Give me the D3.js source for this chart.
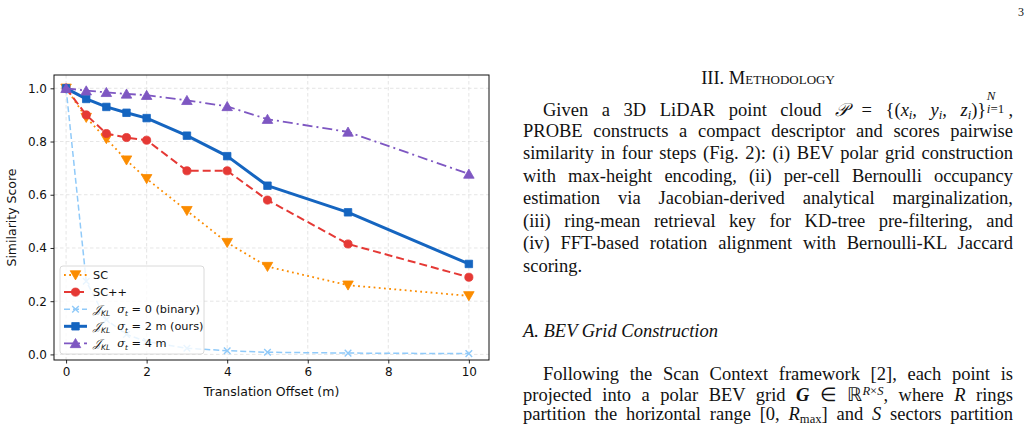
<!DOCTYPE html>
<html>
<head>
<meta charset="utf-8">
<script src="https://cdn.jsdelivr.net/npm/d3@7"></script>
<style>
  body { margin: 0; background: #fff; width: 1031px; height: 424px; overflow: hidden; position: relative; }
  #chart { position: absolute; left: 0; top: 0; }
  .page { position: absolute; font-family: "Liberation Serif", "Times New Roman", serif; color: #111; }
  .ln { position: absolute; left: 523px; width: 490px; height: 22px; line-height: 22px; font-size: 18.5px;
        text-align: justify; text-align-last: justify; white-space: nowrap; }
  .ln.last { text-align-last: left; }
  .ln.ind { padding-left: 20px; width: 470px; }
  .ln sub { font-size: 0.68em; vertical-align: -0.2em; line-height: 0; }
  .ln sup { font-size: 0.68em; vertical-align: 0.45em; line-height: 0; }
  .cal { font-family: "DejaVu Serif", serif; font-style: italic; }
  .lim { display: inline-block; position: relative; width: 1.2em; height: 1em; vertical-align: baseline; }
  .lim .up { position: absolute; left: 0.05em; top: -0.58em; font-size: 0.7em; font-style: italic; line-height: 1; }
  .lim .dn { position: absolute; left: 0.05em; top: 0.5em; font-size: 0.7em; line-height: 1; }
  .lim .dn i { font-style: italic; }
  .head { left: 523px; width: 490px; text-align: center; font-size: 18.5px; top: 67px; line-height: 22px; font-variant: small-caps; }
  .sub-head { left: 523px; top: 320px; font-size: 18.5px; line-height: 22px; font-style: italic; }
  .pnum { left: 1018px; top: 5px; font-size: 12px; }
</style>
</head>
<body>
<svg id="chart" width="1031" height="424"></svg>

<div class="page pnum">3</div>
<div class="page head">III. Methodology</div>
<div class="page ln ind" style="top:97px">Given a 3D LiDAR point cloud <span class="cal">𝒫</span> = {(<i>x<sub>i</sub></i>, <i>y<sub>i</sub></i>, <i>z<sub>i</sub></i>)}<span class="lim"><span class="up">N</span><span class="dn"><i>i</i>=1</span></span>,</div>
<div class="page ln" style="top:119.5px">PROBE constructs a compact descriptor and scores pairwise</div>
<div class="page ln" style="top:142px">similarity in four steps (Fig. 2): (i) BEV polar grid construction</div>
<div class="page ln" style="top:164.5px">with max-height encoding, (ii) per-cell Bernoulli occupancy</div>
<div class="page ln" style="top:187px">estimation via Jacobian-derived analytical marginalization,</div>
<div class="page ln" style="top:209.5px">(iii) ring-mean retrieval key for KD-tree pre-filtering, and</div>
<div class="page ln" style="top:232px">(iv) FFT-based rotation alignment with Bernoulli-KL Jaccard</div>
<div class="page ln last" style="top:254.5px">scoring.</div>
<div class="page sub-head">A. BEV Grid Construction</div>
<div class="page ln ind" style="top:363px">Following the Scan Context framework [2], each point is</div>
<div class="page ln" style="top:384px">projected into a polar BEV grid <b><i>G</i></b> ∈ ℝ<sup><i>R</i>×<i>S</i></sup>, where <i>R</i> rings</div>
<div class="page ln" style="top:403px">partition the horizontal range [0, <i>R</i><sub>max</sub>] and <i>S</i> sectors partition</div>

<script>
// translation offsets (m) and similarity per method
var offsets = [0, 0.5, 1, 1.5, 2, 3, 4, 5, 7, 10];
var scScores = [1.0, 0.89, 0.81, 0.73, 0.66, 0.54, 0.42, 0.33, 0.26, 0.22];
var scppScores = [1.0, 0.90, 0.83, 0.815, 0.805, 0.69, 0.69, 0.58, 0.415, 0.29];
var binaryScores = [1.0, 0.275, 0.13, 0.075, 0.048, 0.023, 0.014, 0.008, 0.005, 0.003];
var oursScores = [1.0, 0.96, 0.93, 0.908, 0.888, 0.822, 0.745, 0.634, 0.534, 0.34];
var sigma4Scores = [1.0, 0.991, 0.985, 0.979, 0.974, 0.955, 0.932, 0.884, 0.836, 0.678];

// tick labels
var xTickVals = [0, 2, 4, 6, 8, 10];
var yTickVals = [0.0, 0.2, 0.4, 0.6, 0.8, 1.0];

// legend labels, as pieces: [text, style]
var legendLabels = [
    [["SC", ""]],
    [["SC++", ""]],
    [["𝒥", "cal"], ["KL", "sub"], ["\u00a0\u00a0", ""], ["σ", "it"], ["t", "itsub"], [" = 0 (binary)", ""]],
    [["𝒥", "cal"], ["KL", "sub"], ["\u00a0\u00a0", ""], ["σ", "it"], ["t", "itsub"], [" = 2 m (ours)", ""]],
    [["𝒥", "cal"], ["KL", "sub"], ["\u00a0\u00a0", ""], ["σ", "it"], ["t", "itsub"], [" = 4 m", ""]]
];

var series = [
    { values: scScores, color: "#fb8c00", width: 1.8, dash: "1.8,3.4", marker: "tri-down" },
    { values: scppScores, color: "#e53935", width: 2, dash: "8,4", marker: "circle" },
    { values: binaryScores, color: "#90caf9", width: 1.5, dash: "6,3", marker: "x" },
    { values: oursScores, color: "#1565c0", width: 3, dash: null, marker: "square" },
    { values: sigma4Scores, color: "#7e57c2", width: 1.8, dash: "10,4,2,4", marker: "tri-up" }
];

var svg = d3.select("#chart");
var font = "'DejaVu Sans', sans-serif";

// plot box (note: "top" is taken by window.top)
var pLeft = 54, pRight = 489, pTop = 75, pBottom = 360;

var x = d3.scaleLinear().domain([-0.3, 10.5]).range([pLeft, pRight]);
var y = d3.scaleLinear().domain([-0.021, 1.05]).range([pBottom, pTop]);

// grid
var grid = svg.append("g");
grid.selectAll("line.gx")
    .data(xTickVals)
    .enter()
    .append("line")
    .attr("x1", function(d) { return x(d); })
    .attr("x2", function(d) { return x(d); })
    .attr("y1", pTop)
    .attr("y2", pBottom);
grid.selectAll("line.gy")
    .data(yTickVals)
    .enter()
    .append("line")
    .attr("x1", pLeft)
    .attr("x2", pRight)
    .attr("y1", function(d) { return y(d); })
    .attr("y2", function(d) { return y(d); });
grid.selectAll("line")
    .attr("stroke", "#dedede")
    .attr("stroke-width", 0.8)
    .attr("stroke-dasharray", "3.5,2.5");

// axes
var xAxis = svg.append("g")
    .attr("transform", "translate(0," + pBottom + ")")
    .call(d3.axisBottom(x).tickValues(xTickVals).tickFormat(d3.format("d")).tickSize(3.5).tickPadding(3.5));
var yAxis = svg.append("g")
    .attr("transform", "translate(" + pLeft + ",0)")
    .call(d3.axisLeft(y).tickValues(yTickVals).tickFormat(d3.format(".1f")).tickSize(3.5).tickPadding(3.5));
[xAxis, yAxis].forEach(function(a) {
    a.select(".domain").remove();
    a.selectAll("text").attr("font-family", font).attr("font-size", 12).attr("fill", "#111");
    a.selectAll("line").attr("stroke", "#111").attr("stroke-width", 0.9);
});

// marker shapes
function markerPath(kind) {
    if (kind === "circle") return d3.symbol(d3.symbolCircle, 52)();
    if (kind === "square") return d3.symbol(d3.symbolSquare, 56)();
    if (kind === "tri-up" || kind === "tri-down") return d3.symbol(d3.symbolTriangle, 48)();
    if (kind === "x") return "M-3.3,-3.3L3.3,3.3M-3.3,3.3L3.3,-3.3";
    return null;
}

function drawMarker(sel, s) {
    var p = sel.append("path")
        .attr("d", markerPath(s.marker));
    if (s.marker === "x") {
        p.attr("fill", "none").attr("stroke", s.color).attr("stroke-width", 1.4);
    } else {
        p.attr("fill", s.color).attr("stroke", s.color).attr("stroke-width", 0.8);
    }
    if (s.marker === "tri-up" || s.marker === "tri-down") {
        // center on bbox, not centroid
        var t = s.marker === "tri-up" ? "translate(0,1.2)" : "translate(0,-1.2) rotate(180)";
        p.attr("transform", t);
    }
}

var line = d3.line()
    .x(function(d) { return x(d[0]); })
    .y(function(d) { return y(d[1]); });

var plot = svg.append("g");

series.forEach(function(s) {
    var pts = offsets.map(function(o, i) { return [o, s.values[i]]; });
    plot.append("path")
        .datum(pts)
        .attr("d", line)
        .attr("fill", "none")
        .attr("stroke", s.color)
        .attr("stroke-width", s.width)
        .attr("stroke-dasharray", s.dash)
        .attr("stroke-linejoin", "round");
    plot.selectAll(null)
        .data(pts)
        .enter()
        .append("g")
        .attr("transform", function(d) { return "translate(" + x(d[0]) + "," + y(d[1]) + ")"; })
        .each(function() { drawMarker(d3.select(this), s); });
});

// frame
svg.append("rect")
    .attr("x", pLeft)
    .attr("y", pTop)
    .attr("width", pRight - pLeft)
    .attr("height", pBottom - pTop)
    .attr("fill", "none")
    .attr("stroke", "#111")
    .attr("stroke-width", 1);

// axis labels
svg.append("text")
    .attr("x", (pLeft + pRight) / 2)
    .attr("y", 396)
    .attr("text-anchor", "middle")
    .attr("font-family", font)
    .attr("font-size", 12.5)
    .attr("fill", "#111")
    .text("Translation Offset (m)");
svg.append("text")
    .attr("transform", "translate(16," + ((pTop + pBottom) / 2) + ") rotate(-90)")
    .attr("text-anchor", "middle")
    .attr("font-family", font)
    .attr("font-size", 12.5)
    .attr("fill", "#111")
    .text("Similarity Score");

// legend
var legend = svg.append("g");
legend.append("rect")
    .attr("x", 60)
    .attr("y", 266)
    .attr("width", 144)
    .attr("height", 88)
    .attr("rx", 3)
    .attr("fill", "#fff")
    .attr("fill-opacity", 0.8)
    .attr("stroke", "#d0d0d0")
    .attr("stroke-width", 0.8);

series.forEach(function(s, i) {
    var ly = 275 + i * 17.1;
    var g = legend.append("g").attr("transform", "translate(0," + ly + ")");
    g.append("line")
        .attr("x1", 64)
        .attr("x2", 87)
        .attr("stroke", s.color)
        .attr("stroke-width", s.width)
        .attr("stroke-dasharray", s.dash);
    drawMarker(g.append("g").attr("transform", "translate(75.5,0)"), s);

    var t = g.append("text")
        .attr("x", 93)
        .attr("y", 4)
        .attr("font-family", font)
        .attr("font-size", 11.3)
        .attr("fill", "#111");
    var shifted = false;
    legendLabels[i].forEach(function(p) {
        var ts = t.append("tspan").text(p[0]);
        var isSub = p[1] === "sub" || p[1] === "itsub";
        if (isSub && !shifted) { ts.attr("dy", 2.5); shifted = true; }
        if (!isSub && shifted) { ts.attr("dy", -2.5); shifted = false; }
        if (isSub) ts.attr("font-size", 7.5);
        if (p[1] === "it" || p[1] === "itsub") ts.attr("font-style", "italic").attr("font-family", "'DejaVu Serif', serif");
        if (p[1] === "cal") ts.attr("font-style", "italic").attr("font-family", "'DejaVu Serif', serif");
        if (p[1] === "sub") ts.attr("font-style", "italic");
    });
});
</script>
</body>
</html>
